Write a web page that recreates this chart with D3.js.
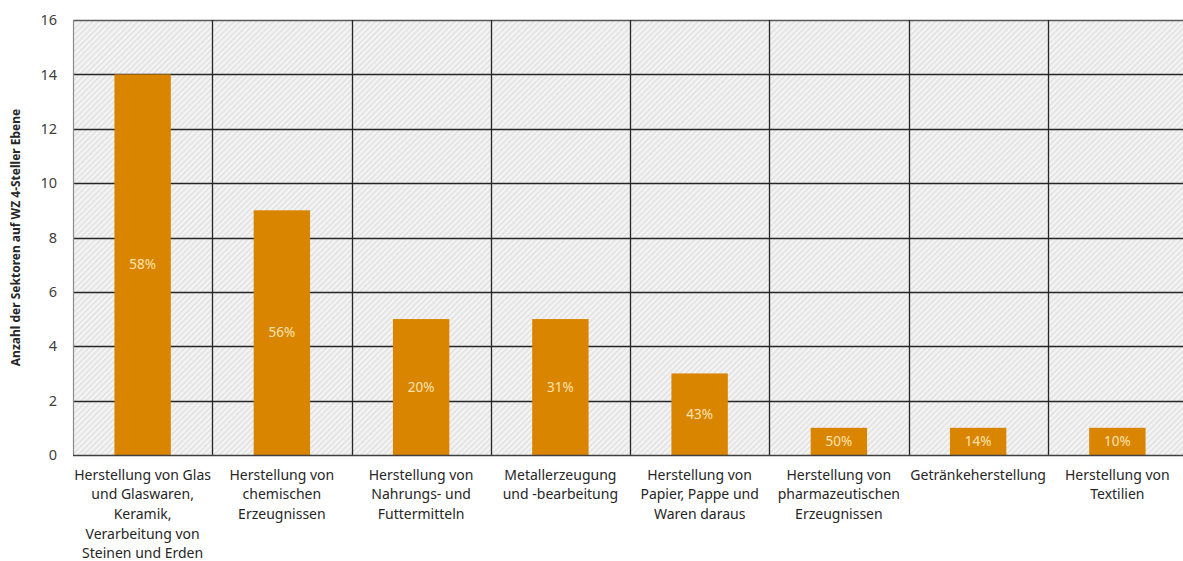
<!DOCTYPE html>
<html>
<head>
<meta charset="utf-8">
<script src="https://cdn.jsdelivr.net/npm/d3@7"></script>
<style>
  html, body { margin: 0; padding: 0; background: #fff; overflow: hidden; }
  svg { display: block; font-family: "Noto Sans", "Open Sans", sans-serif; }
</style>
</head>
<body>
<svg id="chart" width="1183" height="561"></svg>
<script>
// Sectors (WZ 2-digit) and the number of 4-digit sub-sectors in each
const categories = [
  "Herstellung von Glas und Glaswaren, Keramik, Verarbeitung von Steinen und Erden",
  "Herstellung von chemischen Erzeugnissen",
  "Herstellung von Nahrungs- und Futtermitteln",
  "Metallerzeugung und -bearbeitung",
  "Herstellung von Papier, Pappe und Waren daraus",
  "Herstellung von pharmazeutischen Erzeugnissen",
  "Getränkeherstellung",
  "Herstellung von Textilien"
];
const categoryLines = [
  ["Herstellung von Glas", "und Glaswaren,", "Keramik,", "Verarbeitung von", "Steinen und Erden"],
  ["Herstellung von", "chemischen", "Erzeugnissen"],
  ["Herstellung von", "Nahrungs- und", "Futtermitteln"],
  ["Metallerzeugung", "und -bearbeitung"],
  ["Herstellung von", "Papier, Pappe und", "Waren daraus"],
  ["Herstellung von", "pharmazeutischen", "Erzeugnissen"],
  ["Getränkeherstellung"],
  ["Herstellung von", "Textilien"]
];
const counts = [14, 9, 5, 5, 3, 1, 1, 1];
const shares = ["58%", "56%", "20%", "31%", "43%", "50%", "14%", "10%"];
const yTicks = [0, 2, 4, 6, 8, 10, 12, 14, 16];
const yTitle = "Anzahl der Sektoren auf WZ 4-Steller Ebene";

const svg = d3.select("#chart");
const margin = { left: 73, top: 20, right: 1187, bottom: 455 };

const x = d3.scaleBand()
  .domain(d3.range(categories.length))
  .range([margin.left, margin.right])
  .paddingInner(0)
  .paddingOuter(0);

const y = d3.scaleLinear().domain([0, 16]).range([margin.bottom, margin.top]);

// hatched plot background
const defs = svg.append("defs");
const pat = defs.append("pattern")
  .attr("id", "hatch")
  .attr("patternUnits", "userSpaceOnUse")
  .attr("width", 4).attr("height", 4)
  .attr("patternTransform", "rotate(45)");
pat.append("rect").attr("width", 4).attr("height", 4).attr("fill", "#f4f4f4");
pat.append("rect").attr("width", 1.5).attr("height", 4).attr("fill", "#e0e0e0");

svg.append("rect")
  .attr("x", margin.left).attr("y", margin.top)
  .attr("width", margin.right - margin.left)
  .attr("height", margin.bottom - margin.top)
  .attr("fill", "url(#hatch)");

// horizontal gridlines
svg.append("g").selectAll("line").data(yTicks.filter(d => d > 0)).join("line")
  .attr("x1", margin.left).attr("x2", margin.right)
  .attr("y1", d => Math.round(y(d)) + 0.5).attr("y2", d => Math.round(y(d)) + 0.5)
  .attr("stroke", d => d === 16 ? "#595959" : "#262626")
  .attr("stroke-width", 1.4);

// vertical category separators
svg.append("g").selectAll("line").data(d3.range(1, categories.length)).join("line")
  .attr("x1", d => Math.round(x(d)) + 0.5).attr("x2", d => Math.round(x(d)) + 0.5)
  .attr("y1", margin.top).attr("y2", margin.bottom)
  .attr("stroke", "#262626").attr("stroke-width", 1.3);

// bars
const barW = x.bandwidth() * 0.405;
svg.append("g").selectAll("rect").data(counts).join("rect")
  .attr("x", (d, i) => x(i) + (x.bandwidth() - barW) / 2)
  .attr("y", d => y(d))
  .attr("width", barW)
  .attr("height", d => y(0) - y(d))
  .attr("fill", "#d98500");

// left axis line and baseline
svg.append("line")
  .attr("x1", margin.left + 0.5).attr("x2", margin.left + 0.5)
  .attr("y1", margin.top).attr("y2", margin.bottom)
  .attr("stroke", "#8c8c8c").attr("stroke-width", 1.2);
svg.append("line")
  .attr("x1", margin.left).attr("x2", margin.right)
  .attr("y1", margin.bottom + 0.5).attr("y2", margin.bottom + 0.5)
  .attr("stroke", "#404040").attr("stroke-width", 1.5);

// share labels centred in the bars
svg.append("g").selectAll("text").data(counts).join("text")
  .attr("x", (d, i) => x(i) + x.bandwidth() / 2)
  .attr("y", d => (y(d) + y(0)) / 2)
  .attr("dy", "0.35em")
  .attr("text-anchor", "middle")
  .attr("font-size", 13.5)
  .attr("fill", "#fde3b0")
  .text((d, i) => shares[i]);

// y axis via d3.axisLeft
const yAxis = svg.append("g")
  .attr("transform", `translate(${margin.left - 16},0)`)
  .call(d3.axisLeft(y).tickValues(yTicks).tickSize(0).tickPadding(0));
yAxis.select(".domain").remove();
yAxis.selectAll("text")
  .attr("font-size", 14.5)
  .attr("fill", "#404040")
  .attr("font-family", "\"Noto Sans\", sans-serif");

// y axis title
svg.append("text")
  .attr("transform", `translate(20,${(margin.top + margin.bottom) / 2}) rotate(-90)`)
  .attr("text-anchor", "middle")
  .attr("font-size", 12)
  .attr("font-weight", "bold")
  .attr("fill", "#262626")
  .text(yTitle);

// category labels
const xLab = svg.append("g");
categoryLines.forEach((lines, i) => {
  const t = xLab.append("text")
    .attr("text-anchor", "middle")
    .attr("font-size", 14)
    .attr("fill", "#262626");
  lines.forEach((ln, k) => {
    t.append("tspan")
      .attr("x", x(i) + x.bandwidth() / 2)
      .attr("y", 479.5 + k * 19.7)
      .text(ln);
  });
});
</script>
</body>
</html>
